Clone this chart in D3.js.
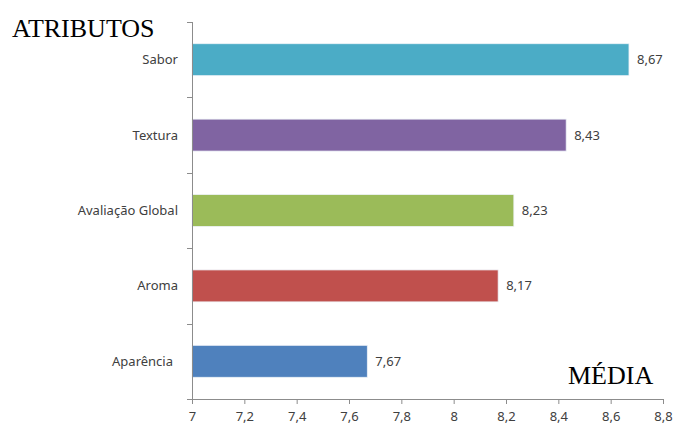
<!DOCTYPE html>
<html>
<head>
<meta charset="utf-8">
<script src="https://cdn.jsdelivr.net/npm/d3@7/dist/d3.min.js"></script>
<style>
  html, body { margin: 0; padding: 0; background: #fff; }
  svg { display: block; }
</style>
</head>
<body>
<svg id="chart" width="674" height="426"></svg>
<script>
// Mean scores per sensory attribute
const categories = ["Sabor", "Textura", "Avaliação Global", "Aroma", "Aparência"];
const values = [8.67, 8.43, 8.23, 8.17, 7.67];
const colors = ["#4BACC6", "#8064A2", "#9BBB59", "#C0504D", "#4F81BD"];
const xTicks = [7, 7.2, 7.4, 7.6, 7.8, 8, 8.2, 8.4, 8.6, 8.8];

const svg = d3.select("#chart");
const plot = { left: 192, right: 663, top: 22, bottom: 399 };
const labelFont = "'Noto Sans', 'Open Sans', sans-serif";
const labelSize = 13;
const axisColor = "#8c8c8c";
const textColor = "#404040";

const x = d3.scaleLinear().domain([7, 8.8]).range([plot.left, plot.right]);
const y = d3.scaleBand().domain(categories).range([plot.top, plot.bottom]).paddingInner(0.576).paddingOuter(0.288);

const fmt = v => String(v).replace(".", ",");

// Bars
svg.append("g").selectAll("rect")
  .data(categories)
  .join("rect")
  .attr("x", x(7))
  .attr("y", d => y(d))
  .attr("width", (d, i) => x(values[i]) - x(7))
  .attr("height", y.bandwidth())
  .attr("fill", (d, i) => colors[i])
  .attr("stroke", "#eef3f8")
  .attr("stroke-width", 0.8);

// Value labels
svg.append("g").selectAll("text")
  .data(categories)
  .join("text")
  .attr("x", (d, i) => x(values[i]) + 8)
  .attr("y", d => y(d) + y.bandwidth() / 2)
  .attr("dy", "0.35em")
  .attr("font-family", labelFont)
  .attr("font-size", labelSize)
  .attr("fill", textColor)
  .text((d, i) => fmt(values[i]));

// X axis
const xAxis = svg.append("g")
  .attr("transform", `translate(0,${plot.bottom})`)
  .call(d3.axisBottom(x).tickValues(xTicks).tickSize(5).tickSizeOuter(0).tickPadding(8).tickFormat(fmt));
xAxis.select(".domain").attr("stroke", axisColor);
xAxis.selectAll(".tick line").attr("stroke", axisColor);
xAxis.selectAll("text")
  .attr("font-family", labelFont)
  .attr("font-size", labelSize)
  .attr("fill", textColor);

// Y axis: line with ticks at band boundaries
const yAxisG = svg.append("g");
yAxisG.append("line")
  .attr("x1", plot.left + 0.5).attr("x2", plot.left + 0.5)
  .attr("y1", plot.top).attr("y2", plot.bottom)
  .attr("stroke", axisColor);
const step = y.step();
const boundaries = d3.range(categories.length + 1).map(i => plot.top + i * step);
yAxisG.selectAll("line.tk")
  .data(boundaries)
  .join("line")
  .attr("class", "tk")
  .attr("x1", plot.left - 5).attr("x2", plot.left + 0.5)
  .attr("y1", d => Math.round(d) + 0.5).attr("y2", d => Math.round(d) + 0.5)
  .attr("stroke", axisColor);

// Category labels
yAxisG.selectAll("text")
  .data(categories)
  .join("text")
  .attr("x", (d, i) => plot.left - 14 - (i === categories.length - 1 ? 5 : 0))
  .attr("y", d => y(d) + y.bandwidth() / 2)
  .attr("dy", "0.35em")
  .attr("text-anchor", "end")
  .attr("font-family", labelFont)
  .attr("font-size", labelSize)
  .attr("fill", textColor)
  .text(d => d);

// Axis titles
svg.append("text")
  .attr("x", 12).attr("y", 37)
  .attr("font-family", "'Liberation Serif', 'Times New Roman', serif")
  .attr("font-size", 26)
  .attr("fill", "#000")
  .text("ATRIBUTOS");

svg.append("text")
  .attr("x", 568).attr("y", 384)
  .attr("font-family", "'Liberation Serif', 'Times New Roman', serif")
  .attr("font-size", 26)
  .attr("fill", "#000")
  .text("MÉDIA");
</script>
</body>
</html>
